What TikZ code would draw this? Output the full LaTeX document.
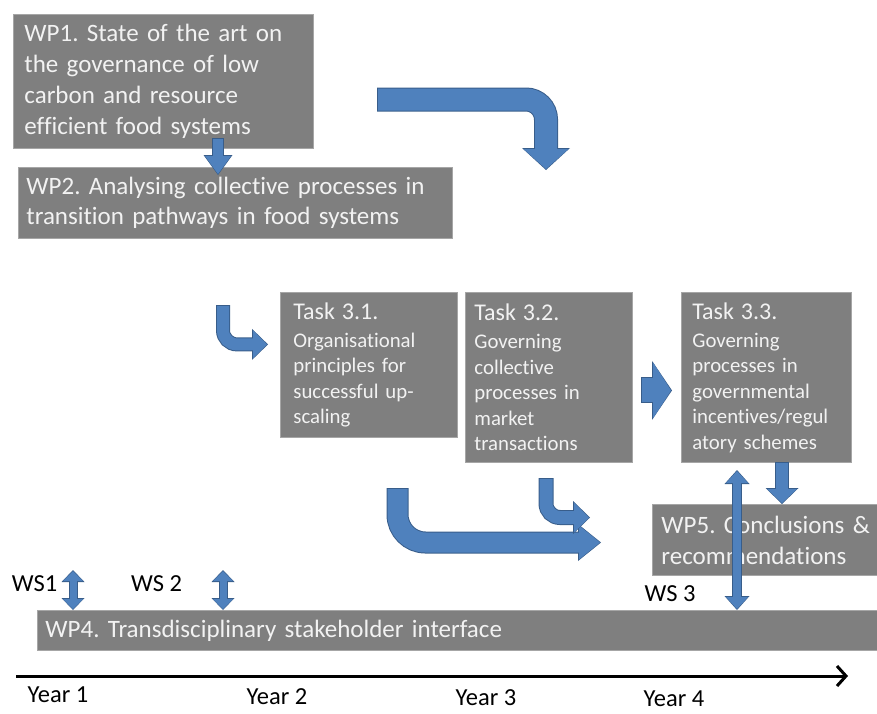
\documentclass[tikz,border=0pt]{standalone}
\usepackage{fontspec}
\setmainfont{Carlito}[Ligatures=NoCommon]
\usetikzlibrary{arrows.meta,calc}
\frenchspacing

\definecolor{boxgray}{RGB}{127,127,127}
\definecolor{boxedge}{RGB}{166,166,166}
\definecolor{boxtext}{RGB}{242,242,242}
\definecolor{arrowblue}{RGB}{79,129,189}
\definecolor{arrowedge}{RGB}{56,93,138}

\tikzset{
  wpbox/.style={draw=boxedge, line width=0.8pt, fill=boxgray, text=boxtext, anchor=north west,
    align=left, inner xsep=11pt, inner ysep=0pt, font=\fontsize{25}{31}\selectfont},
  taskbox/.style={wpbox, font=\fontsize{20.8}{25.5}\selectfont},
  blockline/.style n args={3}{line width=#1, >={Triangle[width=#2,length=#3,line width=0pt]}},
  lbl/.style={font=\fontsize{24.5}{29}\selectfont, inner sep=0pt}
}

\newcommand{\tasktitle}[1]{{\fontsize{24}{28}\selectfont #1}\\[2.5pt]}
\newcommand{\blockarrow}[5][->]{%
  \pgfmathsetmacro{\baw}{#2+2}%
  \pgfmathsetmacro{\bah}{#3+3}%
  \pgfmathsetmacro{\bal}{#4+2}%
  \draw[#1, blockline={\baw pt}{\bah pt}{\bal pt}, draw=arrowedge] #5;
  \draw[#1, blockline={#2pt}{#3pt}{#4pt}, draw=arrowblue, shorten >=1pt, shorten <=1pt] #5;
}

\begin{document}
\begin{tikzpicture}[x=1pt, y=-1pt]
  \useasboundingbox (0,0) rectangle (877,713);

  \node[wpbox, text width=278pt, minimum height=134pt] (wp1) at (13,14)
    {WP1. State of the art on\\ the governance of low\\ carbon and resource\\ efficient food systems};
  \node[wpbox, inner xsep=8pt, text width=418pt, minimum height=71pt, font=\fontsize{25}{30}\selectfont] (wp2) at (18,167)
    {WP2. Analysing collective processes in\\ transition pathways in food systems};
  \node[taskbox, inner xsep=13pt, text width=151pt, minimum height=145pt] (t31) at (280,292)
    {\tasktitle{Task 3.1.}Organisational\\ principles for\\ successful up-\\ scaling};
  \node[taskbox, inner xsep=9pt, text width=149pt, minimum height=170pt] (t32) at (465,292)
    {\tasktitle{Task 3.2.}Governing\\ collective\\ processes in\\ market\\ transactions};
  \node[taskbox, inner xsep=11pt, text width=148pt, minimum height=170pt] (t33) at (681,292)
    {\tasktitle{Task 3.3.}Governing\\ processes in\\ governmental\\ incentives/regul\\ atory schemes};
  \node[wpbox, inner xsep=9pt, text width=209pt, minimum height=71pt] (wp5) at (652,504)
    {WP5. Conclusions \&\\ recommendations};
  \node[wpbox, inner xsep=8pt, text width=824pt, minimum height=40pt] (wp4) at (37,610)
    {WP4. Transdisciplinary stakeholder interface};

  \coordinate (k12) at (218,138);
  \blockarrow{10}{26}{18}{(k12) -- ($(k12 |- wp2.north)+(0,8)$)}
  \coordinate (bendA) at (377,99.5);
  \coordinate (bendB) at (546,170);
  \blockarrow[->, rounded corners=20pt]{22}{45}{20}{(bendA) -| (bendB)}
  \coordinate (u31) at (223,305);
  \blockarrow[->, rounded corners=14pt]{12}{28}{14}{(u31) |- ($(t31.west)+(-12,-20.5)$)}
  \blockarrow{24}{56}{18}{($(t32.east)+(8,13)$) -- ($(t33.west)+(-9,13)$)}
  \coordinate (u41) at (397.5,488);
  \coordinate (u41e) at (601,542.5);
  \blockarrow[->, rounded corners=28pt]{20}{34}{21}{(u41) |- (u41e)}
  \coordinate (u42) at (546,478);
  \coordinate (u42e) at (590,517.5);
  \blockarrow[->, rounded corners=14pt]{13}{30}{15}{(u42) |- (u42e)}
  \coordinate (k35) at (782,462);
  \blockarrow{12}{30}{14}{(k35) -- (k35 |- wp5.north)}

  \node[lbl] (ws1) at (34.5,584) {WS1};
  \node[lbl] (ws2) at (156.5,584) {WS 2};
  \node[lbl] (ws3) at (670,594) {WS 3};
  \coordinate (ws1top) at (73,570);
  \coordinate (ws2top) at (223,570);
  \coordinate (ws3top) at (737,470);
  \blockarrow[<->]{7}{20}{10}{(ws1top) -- (ws1top |- wp4.north)}
  \blockarrow[<->]{7}{20}{10}{(ws2top) -- (ws2top |- wp4.north)}
  \blockarrow[<->]{8}{22}{12}{(ws3top) -- (ws3top |- wp4.north)}

  \coordinate (t0) at (16,676);
  \coordinate (t1) at (848,676);
  \draw[line width=3pt, -{Straight Barb[length=9pt,width=20pt]}] (t0) -- (t1);
  \node[lbl] (y1) at (58,695) {Year 1};
  \node[lbl] (y2) at (277,696.5) {Year 2};
  \node[lbl] (y3) at (486,697.5) {Year 3};
  \node[lbl] (y4) at (674,698.5) {Year 4};
\end{tikzpicture}
\end{document}
